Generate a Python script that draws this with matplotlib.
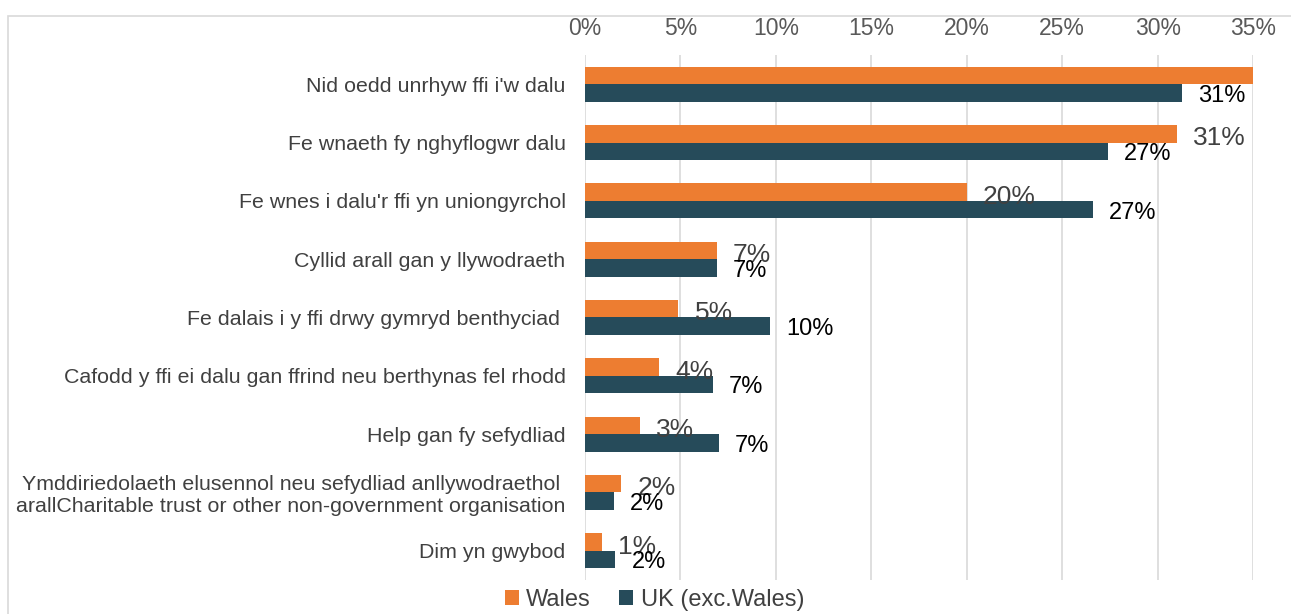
import matplotlib.pyplot as plt
import numpy as np
from matplotlib.patches import Rectangle

plt.rcParams['font.family'] = ['Liberation Sans', 'DejaVu Sans']

categories = ["Nid oedd unrhyw ffi i'w dalu",
              "Fe wnaeth fy nghyflogwr dalu",
              "Fe wnes i dalu'r ffi yn uniongyrchol",
              "Cyllid arall gan y llywodraeth",
              "Fe dalais i y ffi drwy gymryd benthyciad ",
              "Cafodd y ffi ei dalu gan ffrind neu berthynas fel rhodd",
              "Help gan fy sefydliad",
              "Ymddiriedolaeth elusennol neu sefydliad anllywodraethol\narallCharitable trust or other non-government organisation",
              "Dim yn gwybod"]
wales = [35.2, 31.0, 20.0, 6.9, 4.9, 3.9, 2.9, 1.9, 0.9]
uk = [31.3, 27.4, 26.6, 6.9, 9.7, 6.7, 7.0, 1.5, 1.6]
xticks = [0, 5, 10, 15, 20, 25, 30, 35]

orange = '#ED7D31'
teal = '#264B5A'

fig = plt.figure(figsize=(12.91, 6.14), dpi=100)
ax = fig.add_axes([0.4531, 0.0554, 0.5175, 0.855])

y = np.arange(len(categories))
h = 0.30
bw = ax.barh(y - h/2, wales, height=h, color=orange, label='Wales', zorder=2)
bu = ax.barh(y + h/2, uk, height=h, color=teal, label='UK (exc.Wales)', zorder=2)

# Wales labels (the 35% one falls outside the plot, as in the original)
for yi, v in zip(y, wales):
    if v < 34:
        ax.annotate(f'{v:.0f}%', (v, yi - h/2 + 0.08), xytext=(11.5, 0), textcoords='offset points',
                    va='center', ha='left', fontsize=19, color='#404040')
for yi, v in zip(y, uk):
    ax.annotate(f'{v:.0f}%', (v, yi + h/2 + 0.05), xytext=(11.5, 0), textcoords='offset points',
                va='center', ha='left', fontsize=17, color='black')

ax.set_xlim(0, 35)
ax.set_ylim(len(categories) - 0.5, -0.5)
ax.set_xticks(xticks)
ax.set_xticklabels([f'{t}%' for t in xticks], fontsize=16.5, color='#595959')
ax.xaxis.tick_top()
ax.tick_params(axis='x', length=0, pad=11)
ax.tick_params(axis='y', length=0, pad=14)
ax.set_yticks(y)
ax.set_yticklabels(categories, fontsize=15.4, color='#404040', multialignment='center')
ax.grid(axis='x', color='#d9d9d9', linewidth=1.2, zorder=0)
ax.set_axisbelow(True)
for s in ax.spines.values():
    s.set_visible(False)

fig.patches.append(Rectangle((8/1291, -0.1), 1.1, 1 - 16/614 + 0.1, transform=fig.transFigure,
                             fill=False, edgecolor='#d9d9d9', linewidth=1.2))

fig.legend(handles=[bw, bu], loc='lower center', bbox_to_anchor=(0.507, -0.03), ncol=2,
           frameon=False, fontsize=17, handlelength=0.6, handleheight=0.6,
           handletextpad=0.3, columnspacing=1.2, labelcolor='#404040')

fig.savefig('out.png', dpi=100)
